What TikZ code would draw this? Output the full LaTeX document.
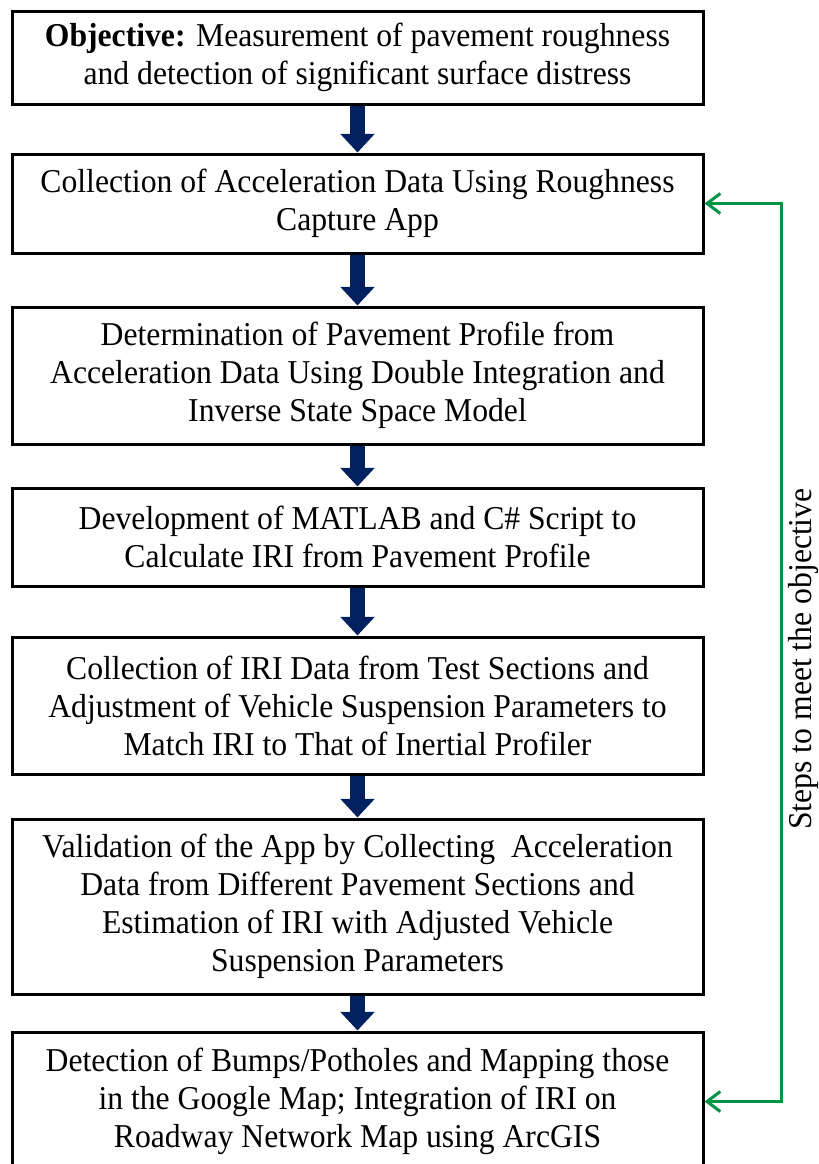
\documentclass[tikz,border=0pt]{standalone}
\usepackage{fontspec}
\setmainfont{Liberation Serif}[FakeStretch=0.95]
\usetikzlibrary{arrows.meta}

\definecolor{navyarrow}{RGB}{0,32,96}
\definecolor{loopgreen}{RGB}{0,148,68}

\begin{document}
\begin{tikzpicture}[x=0.75pt,y=-0.75pt,
    stepbox/.style={draw=black,line width=2.25pt,align=center,
      minimum width=691*0.75pt,inner sep=0pt,
      font=\fontsize{25}{28.5}\selectfont},
    boxh/.style={minimum height=#1*0.75pt},
    flowarrow/.style={navyarrow,line width=11.25pt,-{Triangle[width=25pt,length=14pt]}},
    loopline/.style={loopgreen,line width=2.25pt,
      {Straight Barb[length=10pt,width=15pt]}-{Straight Barb[length=10pt,width=15pt]}}]
  \path[use as bounding box] (0,0) rectangle (818,1164);

  \node[stepbox,boxh=93] (obj) at (357.5,57.5)
    {\textbf{Objective:} Measurement of pavement roughness\\and detection of significant surface distress};
  \node[stepbox,boxh=99] (collect) at (357.5,203.5)
    {Collection of Acceleration Data Using Roughness\\Capture App};
  \node[stepbox,boxh=137] (profile) at (357.5,375.5)
    {Determination of Pavement Profile from\\Acceleration Data Using Double Integration and\\Inverse State Space Model};
  \node[stepbox,boxh=98] (script) at (357.5,537)
    {Development of MATLAB and C\# Script to\\Calculate IRI from Pavement Profile};
  \node[stepbox,boxh=137] (adjust) at (357.5,705.5)
    {Collection of IRI Data from Test Sections and\\Adjustment of Vehicle Suspension Parameters to\\Match IRI to That of Inertial Profiler};
  \node[stepbox,boxh=175] (valid) at (357.5,906.5)
    {Validation of the App by Collecting\ \ Acceleration\\Data from Different Pavement Sections and\\Estimation of IRI with Adjusted Vehicle\\Suspension Parameters};
  \node[stepbox,boxh=139] (detect) at (357.5,1101.5)
    {Detection of Bumps/Potholes and Mapping those\\in the Google Map; Integration of IRI on\\Roadway Network Map using ArcGIS};

  \foreach \a/\b in {obj/collect,collect/profile,profile/script,script/adjust,adjust/valid,valid/detect}
    \draw[flowarrow] (\a) -- (\b);

  % feedback loop on the right
  \draw[loopline] (detect.east) -- ++(77,0) |- (collect.east);
  \node[rotate=90,font=\fontsize{25}{28.5}\selectfont] (steps) at (803,659) {Steps to meet the objective};
\end{tikzpicture}
\end{document}
